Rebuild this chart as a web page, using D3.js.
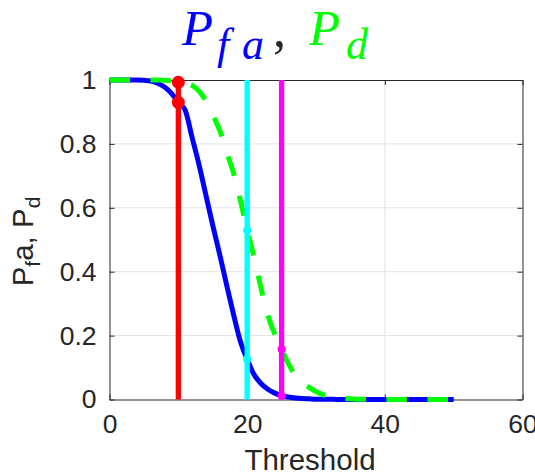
<!DOCTYPE html>
<html>
<head>
<meta charset="utf-8">
<script src="https://cdn.jsdelivr.net/npm/d3@7"></script>
<style>
  html, body { margin: 0; padding: 0; background: #fff; }
  svg { display: block; }
  text { font-family: "Liberation Sans", Arial, Helvetica, sans-serif; fill: #262626; }
</style>
</head>
<body>
<svg id="chart" width="535" height="475"></svg>
<script>
// Detection threshold values (x axis)
const thresholds = [0,1,2,3,4,5,6,7,8,9,10,11,12,13,14,15,16,17,18,19,20,
  21,22,23,24,25,26,27,28,29,30,31,32,33,34,35,36,37,38,39,40,
  41,42,43,44,45,46,47,48,49,50];

// Probability of false alarm at each threshold
const pfa = [1,1,1,1,1,0.999,0.997,0.99,0.978,0.958,0.93,
  0.905,0.82,0.735,0.64,0.545,0.455,0.36,0.268,0.183,0.126,
  0.078,0.05,0.032,0.02,0.012,0.008,0.005,0.003,0.002,0.001,
  0.0007,0.0005,0.0003,0.0002,0.0001,0,0,0,0,0,
  0,0,0,0,0,0,0,0,0,0];

// Probability of detection at each threshold
const pd = [1,1,1,1,1,1,1,1,0.999,0.997,0.993,
  0.99,0.983,0.965,0.935,0.89,0.843,0.775,0.71,0.625,0.53,
  0.445,0.35,0.265,0.205,0.157,0.112,0.075,0.055,0.038,0.025,
  0.015,0.01,0.006,0.004,0.002,0.001,0.0005,0,0,0,
  0,0,0,0,0,0,0,0,0,0];

// Thresholds picked out with vertical markers, and their colours
const markedThresholds = [10, 20, 25];
const markerColors = ["#ff0000", "#00ffff", "#ff00ff"];
const markerRadius = [6.5, 4, 4];

const xTicks = [0, 20, 40, 60];
const yTicks = [0, 0.2, 0.4, 0.6, 0.8, 1];
const xTickLabels = ["0", "20", "40", "60"];
const yTickLabels = ["0", "0.2", "0.4", "0.6", "0.8", "1"];

const svg = d3.select("#chart");
const plotLeft = 109.5, plotRight = 522.5, plotTop = 80, plotBottom = 399.5;

const x = d3.scaleLinear().domain([0, 60]).range([plotLeft, plotRight]);
const y = d3.scaleLinear().domain([0, 1]).range([plotBottom, plotTop]);

// grid
const grid = svg.append("g").attr("stroke", "#e3e3e3").attr("stroke-width", 1);
grid.selectAll(".gx").data(xTicks.slice(1, -1)).join("line")
  .attr("x1", d => x(d)).attr("x2", d => x(d))
  .attr("y1", plotTop).attr("y2", plotBottom);
grid.selectAll(".gy").data(yTicks.slice(1, -1)).join("line")
  .attr("x1", plotLeft).attr("x2", plotRight)
  .attr("y1", d => y(d)).attr("y2", d => y(d));

// axes with inward ticks
const axisColor = "#262626";
const xAxis = d3.axisBottom(x).tickValues(xTicks).tickFormat((d, i) => xTickLabels[i]).tickSizeInner(-5).tickSizeOuter(0).tickPadding(15);
const yAxis = d3.axisLeft(y).tickValues(yTicks).tickFormat((d, i) => yTickLabels[i]).tickSizeInner(-5).tickSizeOuter(0).tickPadding(13);
const xTop = d3.axisTop(x).tickValues(xTicks).tickFormat("").tickSizeInner(-5).tickSizeOuter(0);
const yRight = d3.axisRight(y).tickValues(yTicks).tickFormat("").tickSizeInner(-5).tickSizeOuter(0);

function styleAxis(g) {
  g.select(".domain").attr("stroke", axisColor);
  g.selectAll(".tick line").attr("stroke", axisColor);
  g.selectAll(".tick text").attr("fill", "#262626")
    .style("font-family", '"Liberation Sans", Arial, sans-serif').style("font-size", "26.5px");
}
svg.append("g").attr("transform", `translate(0,${plotBottom})`).call(xAxis).call(styleAxis);
svg.append("g").attr("transform", `translate(${plotLeft},0)`).call(yAxis).call(styleAxis);
svg.append("g").attr("transform", `translate(0,${plotTop})`).call(xTop).call(styleAxis);
svg.append("g").attr("transform", `translate(${plotRight},0)`).call(yRight).call(styleAxis);

// curves
const line = d3.line().x(d => x(d[0])).y(d => y(d[1])).curve(d3.curveMonotoneX);
svg.append("path").datum(thresholds.map((t, i) => [t, pfa[i]]))
  .attr("d", line).attr("fill", "none").attr("stroke", "#0000ff")
  .attr("stroke-width", 5).attr("stroke-linejoin", "round");
svg.append("path").datum(thresholds.map((t, i) => [t, pd[i]]))
  .attr("d", line).attr("fill", "none").attr("stroke", "#00ff00")
  .attr("stroke-width", 5).attr("stroke-dasharray", "20.5,20.5");

// vertical threshold lines with markers on both curves
markedThresholds.forEach((t, k) => {
  const i = thresholds.indexOf(t);
  const g = svg.append("g");
  g.append("line").attr("x1", x(t)).attr("x2", x(t))
    .attr("y1", y(0)).attr("y2", y(1))
    .attr("stroke", markerColors[k]).attr("stroke-width", 5.3);
  g.selectAll("circle").data([pd[i], pfa[i]]).join("circle")
    .attr("cx", x(t)).attr("cy", d => y(d)).attr("r", markerRadius[k])
    .attr("fill", markerColors[k]);
});

// axis labels
svg.append("text").attr("x", 310).attr("y", 470).attr("text-anchor", "middle")
  .style("font-size", "29.5px").text("Threshold");

const yl = svg.append("text").attr("transform", "translate(33,241.5) rotate(-90)")
  .attr("text-anchor", "middle").style("font-size", "29.5px");
yl.append("tspan").text("P");
yl.append("tspan").attr("dy", 7).style("font-size", "21px").text("f");
yl.append("tspan").attr("dy", -7).text("a, P");
yl.append("tspan").attr("dy", 7).style("font-size", "21px").text("d");

// title
const title = svg.append("text")
  .style("font-family", '"Liberation Serif", "Times New Roman", serif')
  .style("font-style", "italic");
title.append("tspan").attr("x", 182).attr("y", 45).style("font-size", "51px").style("fill", "#0000ff").text("P");
title.append("tspan").attr("x", 217).attr("y", 59).style("font-size", "44px").style("fill", "#0000ff").text("f");
title.append("tspan").attr("x", 242).attr("y", 59).style("font-size", "44px").style("fill", "#0000ff").text("a");
title.append("tspan").attr("x", 273).attr("y", 46).style("font-size", "52px").style("font-style", "normal").style("fill", "#262626").text(",");
title.append("tspan").attr("x", 309).attr("y", 45).style("font-size", "51px").style("fill", "#00ff00").text("P");
title.append("tspan").attr("x", 346).attr("y", 59).style("font-size", "44px").style("fill", "#00ff00").text("d");
</script>
</body>
</html>
